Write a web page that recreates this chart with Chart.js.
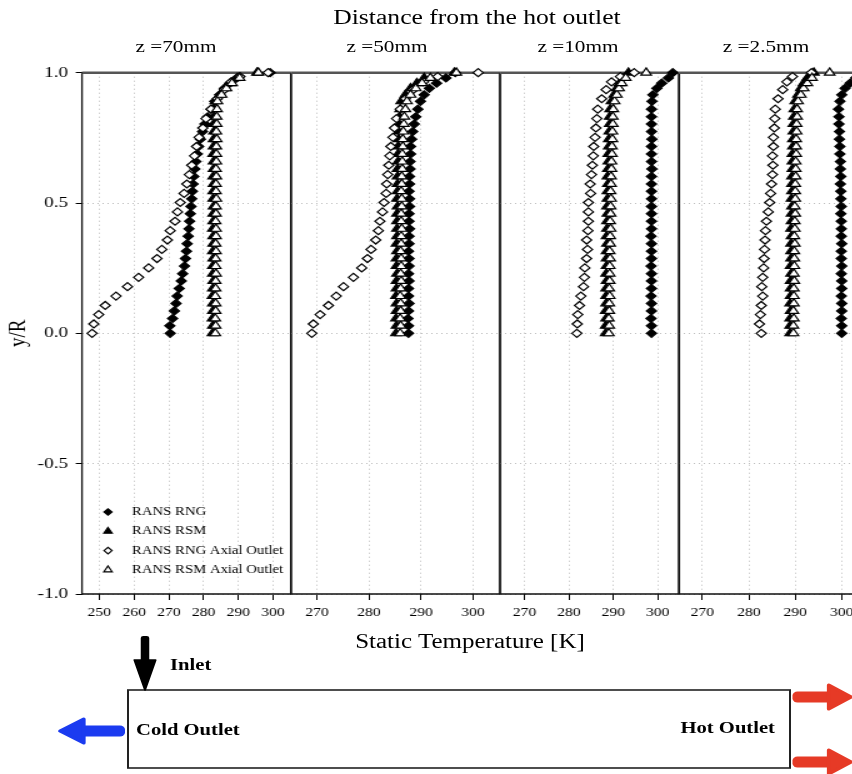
<!DOCTYPE html>
<html>
<head>
<meta charset="utf-8">
<title>Static temperature profiles</title>
<script src="https://cdn.jsdelivr.net/npm/chart.js"></script>
<style>
  html, body { margin: 0; padding: 0; overflow: hidden; background: #fff; }
  /* the whole figure is laid out narrow and stretched sideways */
  #page {
    position: absolute; left: 0; top: 0; width: 682px; height: 774px;
    transform: scaleX(1.25); transform-origin: 0 0;
    font-family: "Liberation Serif", "Times New Roman", serif; color: #000;
  }
  #page canvas { position: absolute; top: 0; }
  .lbl { position: absolute; white-space: nowrap; line-height: 1; }
  .c { text-align: center; }
  .b { font-weight: bold; }
</style>
</head>
<body>
<div id="page">
  <div class="lbl c" style="left:181.6px;width:400px;top:7px;font-size:20.5px">Distance from the hot outlet</div>
  <div class="lbl c" style="left:80.8px;width:120px;top:38px;font-size:17px">z =70mm</div>
  <div class="lbl c" style="left:249.6px;width:120px;top:38px;font-size:17px">z =50mm</div>
  <div class="lbl c" style="left:402.4px;width:120px;top:38px;font-size:17px">z =10mm</div>
  <div class="lbl c" style="left:552.8px;width:120px;top:38px;font-size:17px">z =2.5mm</div>
  <div class="lbl c" style="left:226px;width:300px;top:631px;font-size:20px">Static Temperature [K]</div>

  <svg width="682" height="774" style="position:absolute;left:0;top:0">
    <rect x="102.4" y="690" width="529.6" height="78" fill="none" stroke="#222" stroke-width="1.6"/>
    <!-- inlet -->
    <rect x="112.6" y="636" width="6.8" height="30" rx="2" fill="#000"/>
    <polygon points="107.5,660 124.5,660 116,690" fill="#000" stroke="#000" stroke-linejoin="round" stroke-width="1.5"/>
    <!-- cold outlet -->
    <rect x="62" y="725.5" width="38" height="11" rx="4" fill="#1b3bf0"/>
    <polygon points="48,731 67,719 67,743" fill="#1b3bf0" stroke="#1b3bf0" stroke-linejoin="round" stroke-width="3"/>
    <!-- hot outlet -->
    <rect x="634" y="691.5" width="32" height="11" rx="4" fill="#e63a26"/>
    <polygon points="663,685 663,709 681,697" fill="#e63a26" stroke="#e63a26" stroke-linejoin="round" stroke-width="3"/>
    <rect x="634" y="756.5" width="32" height="11" rx="4" fill="#e63a26"/>
    <polygon points="663,750 663,774 681,762" fill="#e63a26" stroke="#e63a26" stroke-linejoin="round" stroke-width="3"/>
  </svg>
  <div class="lbl b" style="left:136px;top:657px;font-size:16.5px">Inlet</div>
  <div class="lbl b" style="left:108.8px;top:722px;font-size:16.5px">Cold Outlet</div>
  <div class="lbl b" style="left:500px;width:120px;text-align:right;top:720px;font-size:16.5px">Hot Outlet</div>
</div>

<script>
// radial stations y/R
const Y_FINE = [0, 0.029, 0.057, 0.086, 0.115, 0.143, 0.172, 0.201, 0.229, 0.258,
  0.287, 0.315, 0.344, 0.373, 0.401, 0.43, 0.459, 0.487, 0.516, 0.545,
  0.573, 0.602, 0.631, 0.659, 0.688, 0.717, 0.745, 0.774, 0.803, 0.831,
  0.86, 0.89, 0.915, 0.94, 0.96, 0.98, 1.0];
const Y_COARSE = [0, 0.036, 0.072, 0.107, 0.143, 0.179, 0.215, 0.251, 0.287, 0.322,
  0.358, 0.394, 0.43, 0.466, 0.502, 0.537, 0.573, 0.609, 0.645, 0.681,
  0.717, 0.752, 0.788, 0.824, 0.86, 0.9, 0.935, 0.965, 0.985, 1.0];

const SERIES_NAMES = ['RANS RNG', 'RANS RSM', 'RANS RNG Axial Outlet', 'RANS RSM Axial Outlet'];
const X_TICKS_WIDE = [250, 260, 270, 280, 290, 300];
const X_TICKS = [270, 280, 290, 300];
const Y_TICKS = [-1, -0.5, 0, 0.5, 1];

// z = 70 mm
const rng70 = [270.4, 270.3, 271.1, 271.6, 272.1, 272.4, 273.0, 273.6, 274.0, 274.5,
  274.8, 275.1, 275.3, 275.6, 275.8, 276.0, 276.2, 276.4, 276.6, 276.8,
  277.0, 277.2, 277.5, 277.8, 278.2, 278.6, 279.1, 279.7, 280.4, 281.2,
  282.2, 283.2, 284.6, 286.0, 287.6, 289.6, 299.2];
const rsm70 = [282.6, 282.7, 282.6, 282.7, 282.7, 282.6, 282.7, 282.8, 282.7, 282.7,
  282.8, 282.7, 282.8, 282.8, 282.7, 282.8, 282.8, 282.9, 282.8, 282.8,
  282.9, 282.8, 282.9, 282.9, 282.8, 282.9, 282.9, 283.0, 282.9, 283.0,
  283.0, 283.4, 284.8, 286.2, 287.8, 289.8, 295.4];
const rngAx70 = [247.9, 248.4, 249.8, 251.7, 254.8, 258.1, 261.3, 264.2, 266.6, 268.0,
  269.6, 270.4, 271.8, 272.5, 273.3, 274.4, 275.2, 275.9, 276.6, 277.4,
  278.0, 278.7, 279.8, 280.7, 282.2, 284.0, 286.0, 288.0, 290.5, 298.6];
const rsmAx70 = [283.4, 283.5, 283.4, 283.5, 283.5, 283.4, 283.5, 283.5, 283.6, 283.5,
  283.5, 283.6, 283.5, 283.6, 283.6, 283.5, 283.6, 283.6, 283.7, 283.6,
  283.6, 283.7, 283.6, 283.7, 283.7, 283.7, 283.8, 283.7, 283.8, 283.8,
  283.9, 284.0, 285.2, 286.6, 288.2, 290.4, 295.8];

// z = 50 mm
const rng50 = [287.6, 287.6, 287.5, 287.6, 287.7, 287.6, 287.6, 287.7, 287.6, 287.7,
  287.7, 287.6, 287.7, 287.7, 287.8, 287.7, 287.7, 287.8, 287.8, 287.7,
  287.8, 287.8, 287.9, 287.9, 288.0, 288.0, 288.2, 288.4, 288.7, 289.0,
  289.4, 289.9, 290.6, 291.6, 293.0, 294.8, 296.6];
const rsm50 = [285.2, 285.3, 285.2, 285.3, 285.3, 285.2, 285.3, 285.3, 285.4, 285.3,
  285.3, 285.4, 285.3, 285.4, 285.4, 285.4, 285.4, 285.5, 285.4, 285.5,
  285.5, 285.5, 285.5, 285.6, 285.6, 285.6, 285.7, 285.7, 285.8, 285.9,
  286.0, 286.2, 287.0, 288.0, 289.2, 290.6, 296.4];
const rngAx50 = [269.0, 269.3, 270.6, 272.2, 273.7, 275.1, 277.0, 278.6, 279.7, 280.4,
  281.3, 281.8, 282.1, 282.6, 282.9, 283.3, 283.4, 283.6, 283.8, 284.0,
  284.2, 284.6, 284.9, 285.3, 286.0, 287.0, 288.5, 290.5, 293.2, 301.0];
const rsmAx50 = [286.0, 286.1, 286.0, 286.1, 286.1, 286.0, 286.1, 286.2, 286.1, 286.2,
  286.2, 286.1, 286.2, 286.2, 286.3, 286.2, 286.2, 286.3, 286.3, 286.2,
  286.3, 286.3, 286.4, 286.4, 286.4, 286.5, 286.5, 286.6, 286.7, 286.8,
  287.0, 287.3, 288.0, 289.0, 290.2, 291.8, 296.8];

// z = 10 mm
const rng10 = [298.6, 298.6, 298.5, 298.6, 298.6, 298.5, 298.6, 298.6, 298.6, 298.5,
  298.6, 298.6, 298.6, 298.5, 298.6, 298.6, 298.6, 298.6, 298.6, 298.6,
  298.6, 298.6, 298.7, 298.6, 298.6, 298.6, 298.7, 298.6, 298.6, 298.6,
  298.6, 298.7, 298.9, 299.8, 300.9, 302.4, 303.4];
const rsm10 = [288.3, 288.3, 288.4, 288.3, 288.4, 288.4, 288.4, 288.5, 288.4, 288.5,
  288.5, 288.5, 288.6, 288.5, 288.6, 288.6, 288.7, 288.6, 288.7, 288.7,
  288.8, 288.7, 288.8, 288.9, 288.9, 289.0, 289.0, 289.1, 289.2, 289.2,
  289.3, 289.6, 290.2, 290.8, 291.4, 292.4, 293.4];
const rngAx10 = [281.8, 281.9, 282.0, 282.4, 282.7, 283.3, 283.5, 283.6, 284.0, 284.2,
  284.0, 284.3, 284.4, 284.4, 284.4, 284.9, 284.8, 285.1, 285.3, 285.5,
  285.6, 285.9, 286.1, 286.3, 286.5, 287.4, 288.4, 289.6, 291.6, 294.7];
const rsmAx10 = [289.0, 289.1, 289.0, 289.1, 289.1, 289.2, 289.1, 289.2, 289.2, 289.2,
  289.3, 289.2, 289.3, 289.3, 289.4, 289.3, 289.4, 289.4, 289.5, 289.4,
  289.5, 289.5, 289.6, 289.6, 289.7, 289.7, 289.8, 289.8, 289.9, 289.9,
  290.0, 290.3, 290.8, 291.3, 291.9, 292.8, 297.4];

// z = 2.5 mm
const rng2 = [300.0, 300.0, 299.9, 300.0, 300.0, 299.9, 300.0, 300.0, 299.9, 300.0,
  299.9, 299.9, 300.0, 299.9, 299.9, 299.9, 299.8, 299.9, 299.8, 299.8,
  299.7, 299.8, 299.7, 299.7, 299.6, 299.6, 299.5, 299.5, 299.4, 299.4,
  299.3, 299.6, 300.0, 300.7, 301.8, 303.0, 304.0];
const rsm2 = [288.9, 288.9, 288.9, 289.0, 288.9, 289.0, 289.0, 289.0, 289.1, 289.0,
  289.1, 289.1, 289.1, 289.2, 289.1, 289.2, 289.2, 289.3, 289.2, 289.3,
  289.3, 289.3, 289.4, 289.4, 289.4, 289.5, 289.5, 289.6, 289.6, 289.7,
  289.8, 290.0, 290.6, 291.2, 291.8, 292.6, 294.0];
const rngAx2 = [282.7, 282.3, 282.5, 282.7, 283.0, 282.8, 283.0, 283.2, 283.3, 283.4,
  283.5, 283.6, 283.8, 284.2, 284.5, 284.7, 284.9, 285.1, 285.2, 285.1,
  285.3, 285.3, 285.5, 285.6, 285.7, 286.3, 287.3, 288.2, 289.4, 293.5];
const rsmAx2 = [289.6, 289.6, 289.7, 289.6, 289.7, 289.7, 289.7, 289.8, 289.7, 289.8,
  289.8, 289.8, 289.9, 289.8, 289.9, 289.9, 290.0, 289.9, 290.0, 290.0,
  290.0, 290.1, 290.1, 290.1, 290.2, 290.2, 290.2, 290.3, 290.3, 290.4,
  290.4, 290.6, 291.2, 291.8, 292.6, 293.6, 297.4];

const panels = [
  { series: [rng70, rsm70, rngAx70, rsmAx70], min: 245, max: 305.2, ticks: X_TICKS_WIDE },
  { series: [rng50, rsm50, rngAx50, rsmAx50], min: 265, max: 305.2, ticks: X_TICKS },
  { series: [rng10, rsm10, rngAx10, rsmAx10], min: 264.5, max: 304.8, ticks: X_TICKS },
  { series: [rng2, rsm2, rngAx2, rsmAx2], min: 265, max: 305, ticks: X_TICKS }
];

// marker look per model: filled = RANS, open = axial outlet; open ones drawn on top
const markers = [
  { pointStyle: 'rectRot', pointRadius: 4, fill: '#000', order: 4, ys: Y_FINE },
  { pointStyle: 'triangle', pointRadius: 4.8, fill: '#000', order: 3, ys: Y_FINE },
  { pointStyle: 'rectRot', pointRadius: 4, fill: '#fff', order: 2, ys: Y_COARSE },
  { pointStyle: 'triangle', pointRadius: 4.8, fill: '#fff', order: 1, ys: Y_FINE }
];

// page geometry (before the sideways stretch)
const EDGES = [65.6, 232.8, 400, 543.2, 692];
const PLOT_TOP = 72.7, PLOT_BOTTOM = 594, CANVAS_H = 640, X_AXIS_H = 40;

const framePlugin = {
  id: 'frame',
  beforeDatasetsDraw(chart) {
    const { ctx, chartArea: a } = chart;
    ctx.save();
    ctx.strokeStyle = '#111';
    ctx.lineWidth = 1.3;
    ctx.beginPath();
    ctx.moveTo(a.left, a.top);
    ctx.lineTo(a.left, a.bottom);
    ctx.lineTo(a.right, a.bottom);
    ctx.lineTo(a.right, a.top);
    ctx.stroke();
    ctx.strokeStyle = '#555';
    ctx.lineWidth = 2.6;
    ctx.beginPath();
    ctx.moveTo(a.left, a.top);
    ctx.lineTo(a.right, a.top);
    ctx.stroke();
    ctx.restore();
  }
};

// legend sits inside the first panel, lower left
const insideLegend = {
  id: 'insideLegend',
  afterDatasetsDraw(chart) {
    const ctx = chart.ctx;
    const mx = 86.4, tx = 105.6, y0 = 512, dy = 19.3;
    ctx.save();
    ctx.font = '11.8px "Liberation Serif"';
    ctx.textBaseline = 'middle';
    chart.data.datasets.forEach((ds, i) => {
      const y = y0 + i * dy;
      ctx.fillStyle = ds.backgroundColor;
      ctx.strokeStyle = ds.borderColor;
      ctx.lineWidth = 1.2;
      Chart.helpers.drawPoint(ctx, { pointStyle: ds.pointStyle, radius: ds.pointRadius * 0.8, rotation: 0, borderWidth: 1.2 }, mx, y);
      ctx.fillStyle = '#000';
      ctx.fillText(ds.label, tx, y);
    });
    ctx.restore();
  }
};

const page = document.getElementById('page');

panels.forEach((p, i) => {
  const left = i === 0 ? 0 : Math.floor(EDGES[i]) - 6;
  const right = Math.ceil(EDGES[i + 1]) + 10;
  const cv = document.createElement('canvas');
  cv.width = right - left;
  cv.height = CANVAS_H;
  cv.style.left = left + 'px';
  page.appendChild(cv);

  const datasets = p.series.map((xs, k) => ({
    label: SERIES_NAMES[k],
    data: xs.map((x, j) => ({ x: x, y: markers[k].ys[j] })),
    pointStyle: markers[k].pointStyle,
    pointRadius: markers[k].pointRadius,
    backgroundColor: markers[k].fill,
    borderColor: '#000',
    pointBorderWidth: 1.2,
    showLine: false,
    order: markers[k].order,
    clip: false
  }));

  new Chart(cv, {
    type: 'scatter',
    data: { datasets: datasets },
    options: {
      responsive: false,
      animation: false,
      events: [],
      layout: {
        padding: {
          left: i === 0 ? 0 : EDGES[i] - left,
          right: right - EDGES[i + 1],
          top: PLOT_TOP,
          bottom: CANVAS_H - PLOT_BOTTOM - X_AXIS_H
        }
      },
      plugins: { legend: { display: false }, tooltip: { enabled: false } },
      scales: {
        x: {
          type: 'linear',
          min: p.min,
          max: p.max,
          afterBuildTicks: s => { s.ticks = p.ticks.map(v => ({ value: v })); },
          afterFit: s => { s.height = X_AXIS_H; },
          grid: { color: '#bdbdbd', drawTicks: true, tickLength: 6, tickColor: '#000', tickWidth: 1, tickBorderDash: [] },
          border: { display: false, dash: [1, 3] },
          ticks: {
            autoSkip: false, maxRotation: 0, padding: 5, color: '#000',
            font: { family: 'Liberation Serif', size: 12.5 },
            callback: v => v
          }
        },
        y: {
          type: 'linear',
          min: -1,
          max: 1,
          afterBuildTicks: s => { s.ticks = Y_TICKS.map(v => ({ value: v })); },
          afterFit: s => { s.width = i === 0 ? EDGES[0] : 0; },
          grid: { color: '#bdbdbd', drawTicks: i === 0, tickLength: 5, tickColor: '#000', tickWidth: 1, tickBorderDash: [] },
          border: { display: false, dash: [1, 3] },
          ticks: {
            display: i === 0, padding: 6, color: '#000',
            font: { family: 'Liberation Serif', size: 15.5 },
            callback: v => v.toFixed(1)
          },
          title: {
            display: i === 0, text: 'y/R', color: '#000',
            padding: { top: 4, bottom: 0 },
            font: { family: 'Liberation Serif', size: 19 }
          }
        }
      }
    },
    plugins: i === 0 ? [framePlugin, insideLegend] : [framePlugin]
  });
});
</script>
</body>
</html>
